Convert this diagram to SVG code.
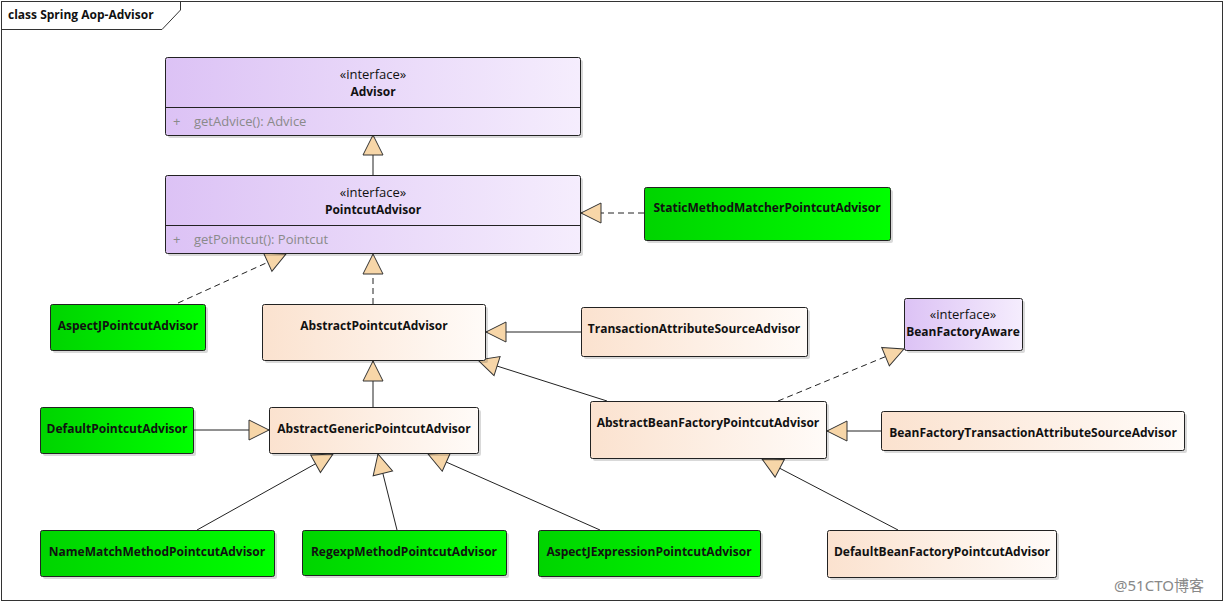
<svg xmlns="http://www.w3.org/2000/svg" width="1225" height="603" viewBox="0 0 1225 603">
<defs>
<linearGradient id="gGreen" x1="0" y1="0" x2="1" y2="0"><stop offset="0" stop-color="#00d400"/><stop offset="1" stop-color="#00ff00"/></linearGradient>
<linearGradient id="gIface" x1="0" y1="0" x2="1" y2="0"><stop offset="0" stop-color="#dcc2f5"/><stop offset="1" stop-color="#f5edfd"/></linearGradient>
<linearGradient id="gPeach" x1="0" y1="0" x2="1" y2="0"><stop offset="0" stop-color="#fbe2cf"/><stop offset="1" stop-color="#fffbf8"/></linearGradient>
<marker id="tri" markerUnits="userSpaceOnUse" markerWidth="24" markerHeight="24" viewBox="-1 -1 24 24" refX="20" refY="10" orient="auto">
<path d="M0,0 L20,10 L0,20 Z" fill="#f7d6a8" stroke="#333" stroke-width="1"/>
</marker>
</defs>
<style>
.frame{fill:#fff;stroke:#333;stroke-width:1}
.shadow{fill:#000;opacity:0.15}
.box{stroke:#222;stroke-width:1}
.green{fill:url(#gGreen)}
.iface{fill:url(#gIface)}
.peach{fill:url(#gPeach)}
.name{font-family:"Open Sans","Noto Sans",sans-serif;font-size:12px;font-weight:bold;fill:#111;text-anchor:middle}
.ster{font-family:"Open Sans","Noto Sans",sans-serif;font-size:13px;fill:#111;text-anchor:middle}
.meth{font-family:"Open Sans","Noto Sans",sans-serif;font-size:13px;fill:#8a8a8a}
.title{font-family:"Open Sans","Noto Sans",sans-serif;font-size:12px;font-weight:bold;fill:#111}
.solid{stroke:#222;stroke-width:1;fill:none;marker-end:url(#tri)}
.dash{stroke:#222;stroke-width:1;fill:none;stroke-dasharray:6,4;marker-end:url(#tri)}
.wm{font-family:"Noto Sans","Noto Sans CJK SC",sans-serif;font-size:15px;fill:#888}
</style>
<rect x="0" y="0" width="1225" height="603" fill="#fff"/>
<g id="frame">
<rect class="frame" x="1.5" y="1.5" width="1221" height="599"/>
<path d="M1.5,29.5 H162 L180.5,10 V1.5" fill="none" stroke="#333"/>
<text class="title" x="8" y="19">class Spring Aop-Advisor</text>
</g>
<g id="connectors">
<line class="solid" x1="373" y1="175" x2="373" y2="135"/>
<line class="dash" x1="644" y1="213" x2="581" y2="213"/>
<line class="dash" x1="178" y1="303" x2="286" y2="254"/>
<line class="dash" x1="373" y1="304" x2="373" y2="254"/>
<line class="solid" x1="581" y1="332" x2="486" y2="332"/>
<line class="solid" x1="607" y1="401" x2="478" y2="360"/>
<line class="dash" x1="778" y1="401" x2="904" y2="349"/>
<line class="solid" x1="881" y1="431" x2="827" y2="431"/>
<line class="solid" x1="898" y1="530" x2="762" y2="459"/>
<line class="solid" x1="373" y1="407" x2="373" y2="361"/>
<line class="solid" x1="193" y1="430" x2="269" y2="430"/>
<line class="solid" x1="197" y1="530" x2="333" y2="454"/>
<line class="solid" x1="397" y1="530" x2="378" y2="454"/>
<line class="solid" x1="600" y1="530" x2="428" y2="454"/>
</g>
<g id="Advisor">
<rect class="shadow" x="168" y="60" width="415" height="78" rx="2"/>
<rect class="box iface" x="165.5" y="57.5" width="415" height="78" rx="2"/>
<line x1="165.5" y1="107.5" x2="580.5" y2="107.5" stroke="#222"/>
<text class="ster" x="373" y="79">«interface»</text>
<text class="name" x="373" y="96">Advisor</text>
<text class="meth" x="173" y="126">+</text>
<text class="meth" x="194" y="126">getAdvice(): Advice</text>
</g>
<g id="PointcutAdvisor">
<rect class="shadow" x="168" y="178" width="415" height="78" rx="2"/>
<rect class="box iface" x="165.5" y="175.5" width="415" height="78" rx="2"/>
<line x1="165.5" y1="225.5" x2="580.5" y2="225.5" stroke="#222"/>
<text class="ster" x="373" y="197">«interface»</text>
<text class="name" x="373" y="214">PointcutAdvisor</text>
<text class="meth" x="173" y="244">+</text>
<text class="meth" x="194" y="244">getPointcut(): Pointcut</text>
</g>
<g id="StaticMethodMatcherPointcutAdvisor">
<rect class="shadow" x="647" y="190" width="246" height="53" rx="2"/>
<rect class="box green" x="644.5" y="187.5" width="246" height="53" rx="2"/>
<text class="name" x="767" y="212">StaticMethodMatcherPointcutAdvisor</text>
</g>
<g id="AspectJPointcutAdvisor">
<rect class="shadow" x="53" y="307" width="155" height="46" rx="2"/>
<rect class="box green" x="50.5" y="304.5" width="155" height="46" rx="2"/>
<text class="name" x="128" y="330">AspectJPointcutAdvisor</text>
</g>
<g id="AbstractPointcutAdvisor">
<rect class="shadow" x="265" y="307" width="223" height="56" rx="2"/>
<rect class="box peach" x="262.5" y="304.5" width="223" height="56" rx="2"/>
<text class="name" x="374" y="330">AbstractPointcutAdvisor</text>
</g>
<g id="TransactionAttributeSourceAdvisor">
<rect class="shadow" x="584" y="310" width="226" height="49" rx="2"/>
<rect class="box peach" x="581.5" y="307.5" width="226" height="49" rx="2"/>
<text class="name" x="694" y="333">TransactionAttributeSourceAdvisor</text>
</g>
<g id="BeanFactoryAware">
<rect class="shadow" x="907" y="301" width="118" height="52" rx="2"/>
<rect class="box iface" x="904.5" y="298.5" width="118" height="52" rx="2"/>
<text class="ster" x="963" y="319">«interface»</text>
<text class="name" x="963" y="336">BeanFactoryAware</text>
</g>
<g id="AbstractBeanFactoryPointcutAdvisor">
<rect class="shadow" x="593" y="404" width="236" height="57" rx="2"/>
<rect class="box peach" x="590.5" y="401.5" width="236" height="57" rx="2"/>
<text class="name" x="708" y="427">AbstractBeanFactoryPointcutAdvisor</text>
</g>
<g id="BeanFactoryTransactionAttributeSourceAdvisor">
<rect class="shadow" x="884" y="414" width="303" height="39" rx="2"/>
<rect class="box peach" x="881.5" y="411.5" width="303" height="39" rx="2"/>
<text class="name" x="1033" y="437">BeanFactoryTransactionAttributeSourceAdvisor</text>
</g>
<g id="DefaultPointcutAdvisor">
<rect class="shadow" x="43" y="410" width="153" height="46" rx="2"/>
<rect class="box green" x="40.5" y="407.5" width="153" height="46" rx="2"/>
<text class="name" x="117" y="433">DefaultPointcutAdvisor</text>
</g>
<g id="AbstractGenericPointcutAdvisor">
<rect class="shadow" x="272" y="410" width="209" height="46" rx="2"/>
<rect class="box peach" x="269.5" y="407.5" width="209" height="46" rx="2"/>
<text class="name" x="374" y="433">AbstractGenericPointcutAdvisor</text>
</g>
<g id="NameMatchMethodPointcutAdvisor">
<rect class="shadow" x="43" y="533" width="234" height="46" rx="2"/>
<rect class="box green" x="40.5" y="530.5" width="234" height="46" rx="2"/>
<text class="name" x="157" y="556">NameMatchMethodPointcutAdvisor</text>
</g>
<g id="RegexpMethodPointcutAdvisor">
<rect class="shadow" x="305" y="533" width="204" height="45" rx="2"/>
<rect class="box green" x="302.5" y="530.5" width="204" height="45" rx="2"/>
<text class="name" x="404" y="556">RegexpMethodPointcutAdvisor</text>
</g>
<g id="AspectJExpressionPointcutAdvisor">
<rect class="shadow" x="541" y="533" width="222" height="46" rx="2"/>
<rect class="box green" x="538.5" y="530.5" width="222" height="46" rx="2"/>
<text class="name" x="649" y="556">AspectJExpressionPointcutAdvisor</text>
</g>
<g id="DefaultBeanFactoryPointcutAdvisor">
<rect class="shadow" x="830" y="533" width="229" height="47" rx="2"/>
<rect class="box peach" x="827.5" y="530.5" width="229" height="47" rx="2"/>
<text class="name" x="942" y="556">DefaultBeanFactoryPointcutAdvisor</text>
</g>
<text class="wm" x="1114" y="591">@51CTO博客</text>
</svg>
